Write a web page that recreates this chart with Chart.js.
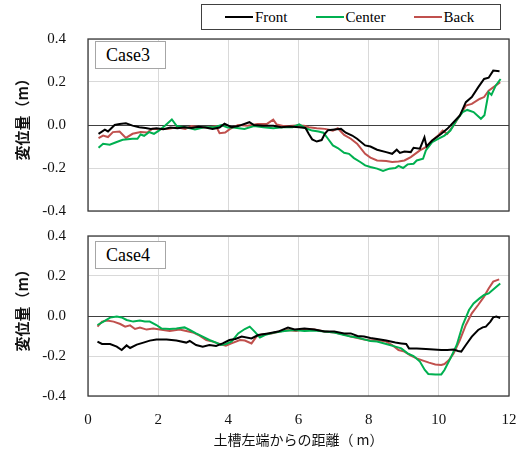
<!DOCTYPE html>
<html>
<head>
<meta charset="utf-8">
<script src="https://cdn.jsdelivr.net/npm/chart.js@4"></script>
<style>
  body { margin: 0; background: #fff; }
  #wrap { position: relative; width: 531px; height: 452px; }
  canvas { position: absolute; left: 0; }
  .caseBox {
    position: absolute; left: 95px; width: 71px; height: 28px;
    border: 1px solid #a6a6a6; background: #fff; box-sizing: border-box;
    font: 18px "Liberation Serif", serif; line-height: 26px; padding-left: 10px; color: #000;
  }
  #legend {
    position: absolute; left: 201px; top: 4px; width: 300px; height: 26px;
    border: 1.5px solid #404040; box-sizing: border-box; background: #fff;
    display: flex; align-items: center; padding-left: 23px; gap: 28px;
    font: 15px "Liberation Serif", serif; color: #000;
  }
  #legend span.item { display: flex; align-items: center; }
  #legend i { display: inline-block; width: 28px; height: 2px; margin-right: 2px; }
</style>
</head>
<body>
<div id="wrap">
  <canvas id="case3Chart" width="531" height="220" style="top:0"></canvas>
  <canvas id="case4Chart" width="531" height="232" style="top:220px"></canvas>
  <div id="legend">
    <span class="item"><i style="background:#000000"></i>Front</span>
    <span class="item"><i style="background:#00b050"></i>Center</span>
    <span class="item"><i style="background:#c0504d"></i>Back</span>
  </div>
  <div class="caseBox" style="top:41px">Case3</div>
  <div class="caseBox" style="top:241px">Case4</div>
</div>
<script>
// 距離(m), 変位量(m)
const seriesNames = ['Front', 'Center', 'Back'];
const seriesColors = ['#000000', '#00b050', '#c0504d'];
const xTicks = [0, 2, 4, 6, 8, 10, 12];
const yTicks = [-0.4, -0.2, 0.0, 0.2, 0.4];

const case3Front = [
    [0.30, -0.041], [0.48, -0.022], [0.57, -0.030], [0.76, 0.000], [0.90, 0.005], [1.08, 0.008],
    [1.27, -0.003], [1.46, -0.010], [1.64, -0.014], [1.79, -0.018], [1.95, -0.015], [2.15, -0.020],
    [2.35, -0.012], [2.55, -0.015], [2.75, -0.010], [2.95, -0.014], [3.15, -0.008], [3.35, -0.012],
    [3.55, -0.018], [3.75, -0.012], [3.89, 0.006], [4.09, -0.010], [4.28, -0.005], [4.60, 0.013],
    [4.73, 0.000], [5.00, -0.003], [5.28, -0.003], [5.51, -0.010], [5.74, -0.007], [6.02, -0.010],
    [6.20, -0.014], [6.29, -0.041], [6.39, -0.067], [6.52, -0.077], [6.66, -0.070], [6.75, -0.041],
    [6.84, -0.024], [7.03, -0.021], [7.21, -0.018], [7.35, -0.036], [7.53, -0.049], [7.67, -0.064],
    [7.90, -0.095], [8.05, -0.100], [8.24, -0.115], [8.50, -0.126], [8.67, -0.134], [8.80, -0.115],
    [8.89, -0.130], [9.02, -0.123], [9.20, -0.126], [9.28, -0.106], [9.46, -0.110], [9.59, -0.057],
    [9.65, -0.100], [9.81, -0.072], [10.07, -0.041], [10.24, -0.018], [10.42, 0.013], [10.60, 0.044],
    [10.77, 0.106], [10.94, 0.130], [11.12, 0.175], [11.29, 0.214], [11.42, 0.220], [11.55, 0.253],
    [11.73, 0.250]
];
const case3Center = [
    [0.30, -0.106], [0.43, -0.087], [0.62, -0.092], [0.80, -0.080], [0.99, -0.069], [1.27, -0.064],
    [1.41, -0.064], [1.50, -0.044], [1.60, -0.050], [1.74, -0.033], [1.88, -0.041], [2.02, -0.026],
    [2.20, -0.002], [2.39, 0.026], [2.53, -0.005], [2.77, -0.010], [3.05, -0.021], [3.33, -0.010],
    [3.60, -0.010], [3.80, 0.000], [3.98, -0.012], [4.09, -0.010], [4.46, -0.018], [4.73, -0.005],
    [5.00, -0.010], [5.28, -0.015], [5.56, -0.010], [5.83, -0.010], [6.02, 0.003], [6.20, -0.015],
    [6.39, -0.026], [6.57, -0.030], [6.71, -0.036], [6.84, -0.064], [6.98, -0.095], [7.12, -0.107],
    [7.30, -0.129], [7.44, -0.134], [7.58, -0.154], [7.76, -0.172], [7.90, -0.188], [8.05, -0.195],
    [8.24, -0.203], [8.41, -0.214], [8.59, -0.203], [8.76, -0.200], [8.85, -0.190], [8.98, -0.200],
    [9.11, -0.183], [9.28, -0.180], [9.37, -0.165], [9.55, -0.157], [9.63, -0.118], [9.81, -0.080],
    [9.98, -0.064], [10.16, -0.049], [10.33, -0.026], [10.50, 0.021], [10.68, 0.060], [10.81, 0.070],
    [10.99, 0.060], [11.20, 0.029], [11.30, 0.045], [11.42, 0.152], [11.50, 0.140], [11.62, 0.183],
    [11.76, 0.214]
];
const case3Back = [
    [0.30, -0.061], [0.43, -0.049], [0.57, -0.056], [0.71, -0.033], [0.90, -0.030], [1.08, -0.060],
    [1.27, -0.041], [1.50, -0.033], [1.69, -0.035], [1.83, -0.018], [2.02, -0.020], [2.30, -0.018],
    [2.53, -0.010], [2.77, -0.018], [2.95, -0.005], [3.19, -0.010], [3.42, -0.012], [3.65, -0.005],
    [3.75, -0.038], [3.91, -0.035], [4.05, -0.018], [4.28, 0.000], [4.55, -0.003], [4.83, 0.005],
    [5.10, 0.005], [5.28, 0.025], [5.38, 0.002], [5.56, -0.005], [5.74, -0.005], [5.93, -0.002],
    [6.16, -0.004], [6.29, -0.010], [6.52, -0.015], [6.75, -0.018], [6.98, -0.026], [7.12, -0.015],
    [7.30, -0.046], [7.49, -0.064], [7.67, -0.087], [7.90, -0.134], [8.05, -0.152], [8.24, -0.165],
    [8.50, -0.167], [8.67, -0.172], [8.85, -0.170], [9.02, -0.165], [9.20, -0.149], [9.46, -0.118],
    [9.63, -0.103], [9.81, -0.072], [9.98, -0.049], [10.11, -0.026], [10.24, -0.041], [10.42, -0.002],
    [10.60, 0.044], [10.77, 0.090], [10.94, 0.098], [11.16, 0.121], [11.29, 0.130], [11.42, 0.160],
    [11.55, 0.175], [11.75, 0.199]
];

const case4Front = [
    [0.27, -0.128], [0.40, -0.140], [0.63, -0.140], [0.82, -0.153], [0.96, -0.170], [1.10, -0.147],
    [1.20, -0.160], [1.39, -0.143], [1.58, -0.133], [1.76, -0.123], [1.95, -0.117], [2.24, -0.117],
    [2.52, -0.123], [2.80, -0.133], [2.90, -0.125], [3.08, -0.145], [3.27, -0.153], [3.46, -0.145],
    [3.65, -0.150], [3.84, -0.137], [4.03, -0.120], [4.20, -0.115], [4.38, -0.103], [4.66, -0.112],
    [4.85, -0.095], [5.13, -0.087], [5.42, -0.078], [5.70, -0.058], [5.89, -0.067], [6.17, -0.062],
    [6.45, -0.067], [6.74, -0.078], [7.02, -0.078], [7.30, -0.087], [7.49, -0.087], [7.68, -0.100],
    [7.87, -0.103], [8.05, -0.110], [8.24, -0.115], [8.50, -0.123], [8.76, -0.133], [8.93, -0.137],
    [9.07, -0.140], [9.15, -0.162], [9.37, -0.162], [9.63, -0.165], [9.85, -0.167], [10.07, -0.170],
    [10.24, -0.170], [10.42, -0.168], [10.55, -0.175], [10.64, -0.178], [10.77, -0.145], [10.94, -0.103],
    [11.12, -0.070], [11.25, -0.057], [11.34, -0.053], [11.47, -0.028], [11.55, -0.007], [11.64, -0.003],
    [11.75, -0.010]
];
const case4Center = [
    [0.27, -0.045], [0.44, -0.028], [0.63, -0.008], [0.82, -0.003], [0.96, -0.007], [1.10, -0.020],
    [1.29, -0.028], [1.48, -0.023], [1.62, -0.028], [1.76, -0.028], [1.95, -0.045], [2.09, -0.062],
    [2.33, -0.065], [2.52, -0.062], [2.75, -0.057], [2.90, -0.070], [3.08, -0.087], [3.27, -0.103],
    [3.46, -0.120], [3.65, -0.133], [3.79, -0.145], [3.93, -0.140], [4.09, -0.128], [4.28, -0.087],
    [4.47, -0.065], [4.61, -0.053], [4.75, -0.078], [4.90, -0.107], [5.04, -0.095], [5.32, -0.082],
    [5.60, -0.075], [5.89, -0.070], [6.17, -0.075], [6.45, -0.073], [6.74, -0.078], [7.02, -0.083],
    [7.30, -0.095], [7.49, -0.103], [7.68, -0.108], [7.87, -0.117], [8.05, -0.125], [8.24, -0.128],
    [8.50, -0.140], [8.76, -0.153], [8.93, -0.162], [9.11, -0.187], [9.28, -0.200], [9.46, -0.228],
    [9.60, -0.270], [9.70, -0.290], [9.90, -0.292], [10.07, -0.292], [10.16, -0.270], [10.33, -0.212],
    [10.51, -0.145], [10.68, -0.045], [10.86, 0.030], [10.99, 0.063], [11.16, 0.088], [11.29, 0.105],
    [11.42, 0.113], [11.55, 0.133], [11.75, 0.163]
];
const case4Back = [
    [0.27, -0.053], [0.40, -0.028], [0.54, -0.023], [0.73, -0.028], [0.92, -0.040], [1.06, -0.053],
    [1.20, -0.047], [1.34, -0.065], [1.48, -0.058], [1.67, -0.068], [1.86, -0.063], [2.05, -0.068],
    [2.33, -0.075], [2.61, -0.068], [2.80, -0.075], [2.99, -0.082], [3.18, -0.098], [3.37, -0.120],
    [3.56, -0.128], [3.75, -0.140], [3.93, -0.148], [4.09, -0.137], [4.33, -0.120], [4.47, -0.123],
    [4.66, -0.137], [4.80, -0.103], [4.94, -0.092], [5.23, -0.087], [5.46, -0.078], [5.70, -0.070],
    [5.93, -0.075], [6.17, -0.065], [6.45, -0.068], [6.74, -0.078], [7.02, -0.082], [7.30, -0.092],
    [7.49, -0.103], [7.68, -0.110], [7.87, -0.117], [8.05, -0.122], [8.24, -0.120], [8.50, -0.128],
    [8.67, -0.145], [8.85, -0.170], [9.02, -0.178], [9.20, -0.198], [9.37, -0.212], [9.55, -0.223],
    [9.72, -0.233], [9.90, -0.242], [10.07, -0.245], [10.16, -0.240], [10.29, -0.220], [10.42, -0.187],
    [10.60, -0.120], [10.77, -0.045], [10.94, 0.013], [11.12, 0.055], [11.29, 0.097], [11.42, 0.138],
    [11.55, 0.172], [11.72, 0.183]
];

// 枠線
const frameBox = {
    id: 'frameBox',
    afterDatasetsDraw(chart) {
        const a = chart.chartArea;
        const ctx = chart.ctx;
        ctx.save();
        ctx.strokeStyle = '#3a3a3a';
        ctx.lineWidth = 1.3;
        ctx.strokeRect(a.left, a.top, a.right - a.left, a.bottom - a.top);
        ctx.restore();
    }
};

function makeChart(canvasId, rows, opts) {
    const ctx = document.getElementById(canvasId).getContext('2d');
    return new Chart(ctx, {
        type: 'line',
        data: {
            datasets: rows.map((r, i) => ({
                label: seriesNames[i],
                data: r.map(p => ({ x: p[0], y: p[1] })),
                borderColor: seriesColors[i],
                backgroundColor: seriesColors[i],
                borderWidth: 2,
                pointRadius: 0,
                tension: 0,
                fill: false
            }))
        },
        options: {
            responsive: false,
            animation: false,
            devicePixelRatio: 1,
            layout: { autoPadding: false, padding: { top: opts.padTop, right: 22, left: 0, bottom: 0 } },
            plugins: { legend: { display: false }, tooltip: { enabled: false } },
            scales: {
                x: {
                    type: 'linear',
                    min: 0,
                    max: 12,
                    afterBuildTicks: s => { s.ticks = xTicks.map(v => ({ value: v })); },
                    afterFit: s => {
                        s.height = opts.xHeight;
                        s.paddingLeft = 0; s.paddingRight = 0;
                    },
                    border: { display: false },
                    grid: { color: '#d9d9d9', lineWidth: 1, drawTicks: false },
                    ticks: {
                        display: opts.showX,
                        padding: 15,
                        color: '#111',
                        font: { family: '"Liberation Serif", serif', size: 15 }
                    },
                    title: {
                        display: opts.showX,
                        text: '土槽左端からの距離（ m）',
                        color: '#111',
                        padding: { top: 0, bottom: 4 },
                        font: { family: '"Noto Sans CJK JP", sans-serif', size: 14 }
                    }
                },
                y: {
                    min: -0.4,
                    max: 0.4,
                    afterBuildTicks: s => { s.ticks = yTicks.map(v => ({ value: v })); },
                    afterFit: s => {
                        s.width = 88;
                        s.paddingTop = 0; s.paddingBottom = 0;
                    },
                    border: { display: false },
                    grid: {
                        drawTicks: false,
                        color: c => Math.abs(c.tick.value) < 1e-9 ? '#404040' : '#d9d9d9',
                        lineWidth: 1
                    },
                    ticks: {
                        padding: 22,
                        color: '#111',
                        font: { family: '"Liberation Serif", serif', size: 15 },
                        callback: v => Number(v).toFixed(1)
                    },
                    title: {
                        display: true,
                        // 先頭の全角スペースで少し上に寄せる
                        text: '\u3000 変位量（m）',
                        color: '#111',
                        padding: { top: 13, bottom: 0 },
                        font: { family: '"Noto Sans CJK JP", sans-serif', size: 15, weight: 'bold' }
                    }
                }
            }
        },
        plugins: [frameBox]
    });
}

makeChart('case3Chart', [case3Front, case3Center, case3Back], { padTop: 39, xHeight: 9, showX: false });
makeChart('case4Chart', [case4Front, case4Center, case4Back], { padTop: 16, xHeight: 56, showX: true });
</script>
</body>
</html>
